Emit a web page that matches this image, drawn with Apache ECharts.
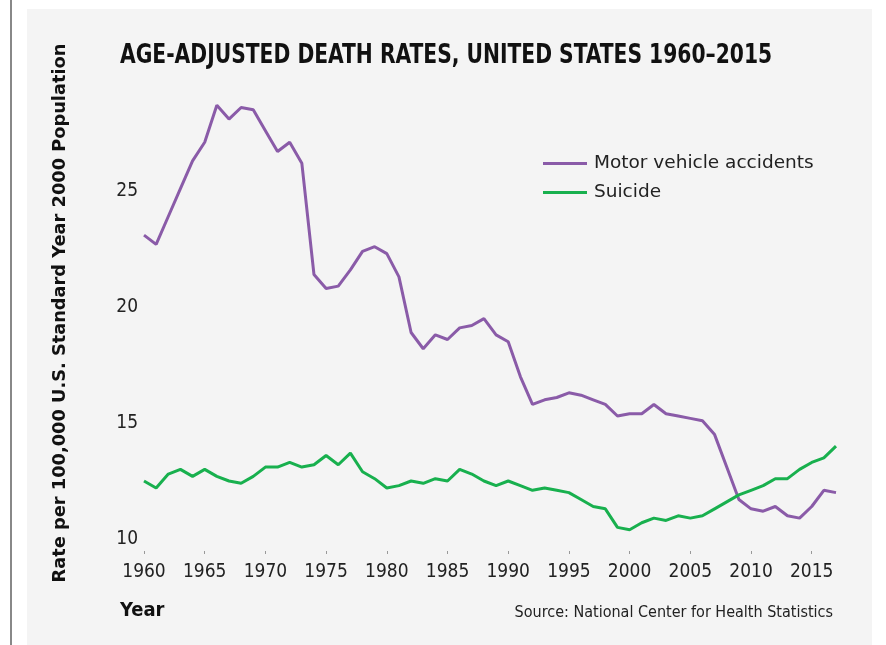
<!DOCTYPE html>
<html>
<head>
<meta charset="utf-8">
<script src="https://cdn.jsdelivr.net/npm/echarts@6/dist/echarts.min.js"></script>
<style>
    html, body { margin: 0; padding: 0; background: #fff; }
    #chart { width: 886px; height: 645px; }
</style>
</head>
<body>
<div id="chart"></div>
<script>
var years = [];
for (var y = 1960; y <= 2017; y++) {
    years.push(y);
}

var motorVehicle = [
    23.1, 22.7, 23.9, 25.1, 26.3, 27.1, 28.7, 28.1, 28.6, 28.5,
    27.6, 26.7, 27.1, 26.2, 21.4, 20.8, 20.9, 21.6, 22.4, 22.6,
    22.3, 21.3, 18.9, 18.2, 18.8, 18.6, 19.1, 19.2, 19.5, 18.8,
    18.5, 17.0, 15.8, 16.0, 16.1, 16.3, 16.2, 16.0, 15.8, 15.3,
    15.4, 15.4, 15.8, 15.4, 15.3, 15.2, 15.1, 14.5, 13.1, 11.7,
    11.3, 11.2, 11.4, 11.0, 10.9, 11.4, 12.1, 12.0
];

var suicide = [
    12.5, 12.2, 12.8, 13.0, 12.7, 13.0, 12.7, 12.5, 12.4, 12.7,
    13.1, 13.1, 13.3, 13.1, 13.2, 13.6, 13.2, 13.7, 12.9, 12.6,
    12.2, 12.3, 12.5, 12.4, 12.6, 12.5, 13.0, 12.8, 12.5, 12.3,
    12.5, 12.3, 12.1, 12.2, 12.1, 12.0, 11.7, 11.4, 11.3, 10.5,
    10.4, 10.7, 10.9, 10.8, 11.0, 10.9, 11.0, 11.3, 11.6, 11.9,
    12.1, 12.3, 12.6, 12.6, 13.0, 13.3, 13.5, 14.0
];

var xTicks = [1960, 1965, 1970, 1975, 1980, 1985, 1990, 1995, 2000, 2005, 2010, 2015];

function pairs(vals) {
    var out = [];
    for (var i = 0; i < vals.length; i++) {
        out.push([years[i], vals[i]]);
    }
    return out;
}

var labelFont = '"DejaVu Sans Condensed", sans-serif';

var myChart = echarts.init(document.getElementById("chart"));
myChart.setOption({
    backgroundColor: '#ffffff',
    animation: false,
    graphic: [
        // gray panel and left rule
        {type: 'rect', left: 27, top: 9, shape: {width: 845, height: 640}, style: {fill: '#f4f4f4'}, z: -10},
        {type: 'rect', left: 10, top: 0, shape: {width: 2, height: 645}, style: {fill: '#888888'}, z: -10},
        {type: 'text', x: 120, y: 42, scaleX: 0.835, style: {
            text: 'AGE-ADJUSTED DEATH RATES, UNITED STATES 1960–2015',
            font: 'bold 27px "DejaVu Sans Condensed", sans-serif',
            fill: '#111'
        }},
        // y axis title
        {type: 'text', x: 60, y: 313, rotation: Math.PI / 2, style: {
            text: 'Rate per 100,000 U.S. Standard Year 2000 Population',
            font: 'bold 17.8px "DejaVu Sans", sans-serif',
            fill: '#111',
            align: 'center',
            verticalAlign: 'middle'
        }},
        {type: 'text', left: 120, top: 601, style: {
            text: 'Year', font: 'bold 20px ' + labelFont, fill: '#111'
        }},
        {type: 'text', right: 53, top: 605, style: {
            text: 'Source: National Center for Health Statistics',
            font: '16px ' + labelFont, fill: '#222'
        }}
    ],
    grid: {left: 144, right: 50, top: 75, bottom: 106},
    legend: {
        orient: 'vertical',
        left: 538,
        top: 148,
        itemWidth: 44,
        itemHeight: 3,
        itemGap: 8,
        icon: 'rect',
        data: ['Motor vehicle accidents', 'Suicide'],
        textStyle: {fontSize: 18.5, fontFamily: '"DejaVu Sans", sans-serif', color: '#222', padding: [0, 0, 0, 2], lineHeight: 21}
    },
    xAxis: {
        type: 'value',
        min: 1960,
        max: 2017,
        offset: 12,
        axisLine: {show: false},
        splitLine: {show: false},
        axisTick: {show: true, length: 3, lineStyle: {color: '#999'}, customValues: xTicks},
        axisLabel: {
            customValues: xTicks,
            margin: 12,
            fontSize: 19,
            fontFamily: labelFont,
            color: '#222',
            formatter: function(v){ return String(v); }
        }
    },
    yAxis: {
        type: 'value',
        min: 10,
        max: 30,
        interval: 5,
        axisLine: {show: false},
        axisTick: {show: false},
        splitLine: {show: false},
        axisLabel: {
            margin: 6,
            fontSize: 19,
            fontFamily: labelFont,
            color: '#222',
            formatter: function(v){ return v >= 30 ? '' : String(v); }
        }
    },
    series: [
        {
            name: 'Motor vehicle accidents',
            type: 'line',
            data: pairs(motorVehicle),
            showSymbol: false,
            color: '#8a5ba8',
            lineStyle: {width: 3, color: '#8a5ba8'}
        },
        {
            name: 'Suicide',
            type: 'line',
            data: pairs(suicide),
            showSymbol: false,
            color: '#18b04e',
            lineStyle: {width: 3, color: '#18b04e'}
        }
    ]
});
</script>
</body>
</html>
